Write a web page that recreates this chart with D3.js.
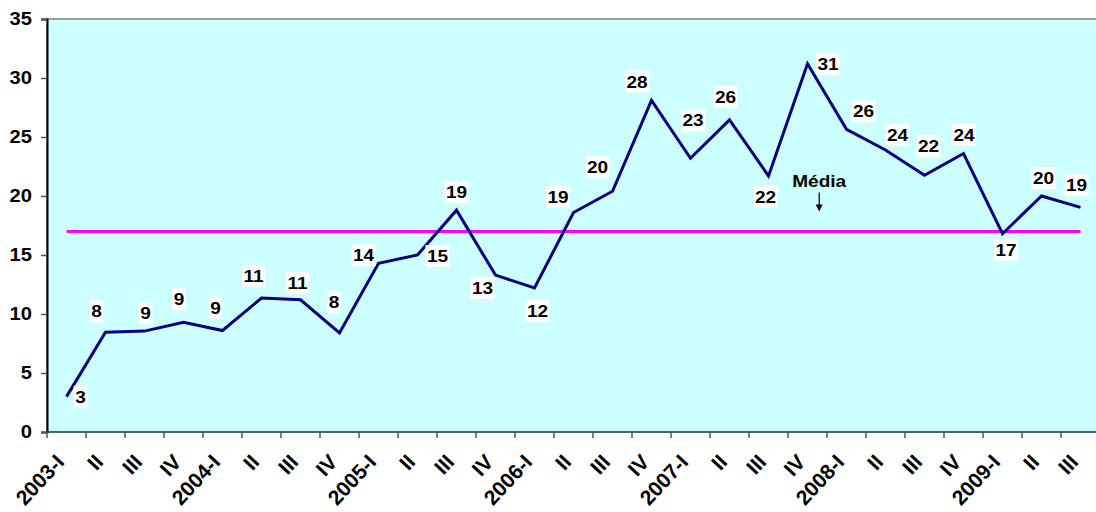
<!DOCTYPE html>
<html>
<head>
<meta charset="utf-8">
<script src="https://cdn.jsdelivr.net/npm/d3@7"></script>
<style>
    html, body { margin: 0; padding: 0; background: #fff; }
    svg { display: block; }
</style>
</head>
<body>
<div id="chart"></div>
<script>
(function () {
    'use strict';

    // quarters 2003-I .. 2009-III
    var periods = [
        "2003-I", "2003-II", "2003-III", "2003-IV",
        "2004-I", "2004-II", "2004-III", "2004-IV",
        "2005-I", "2005-II", "2005-III", "2005-IV",
        "2006-I", "2006-II", "2006-III", "2006-IV",
        "2007-I", "2007-II", "2007-III", "2007-IV",
        "2008-I", "2008-II", "2008-III", "2008-IV",
        "2009-I", "2009-II", "2009-III"
    ];
    var tickLabels = [
        "2003-I", "II", "III", "IV",
        "2004-I", "II", "III", "IV",
        "2005-I", "II", "III", "IV",
        "2006-I", "II", "III", "IV",
        "2007-I", "II", "III", "IV",
        "2008-I", "II", "III", "IV",
        "2009-I", "II", "III"
    ];
    var values = [
        3.0, 8.45, 8.55, 9.3,
        8.6, 11.35, 11.2, 8.4,
        14.3, 15.0, 18.8, 13.3,
        12.2, 18.6, 20.4, 28.1,
        23.2, 26.45, 21.7, 31.2,
        25.65, 23.9, 21.75, 23.6,
        16.8, 20.0, 19.04
    ];
    var media = 17.0;
    var yTicks = [0, 5, 10, 15, 20, 25, 30, 35];

    // where each data label sits relative to its point (placed by hand, like the original)
    var labelOffsets = [
        [14, 0], [-9, -21], [1, -18], [-4.5, -23],
        [-7, -23], [-8, -22], [-3, -17], [-5.5, -31],
        [-15, -8], [20, 1], [0, -18], [-13, 13],
        [3, 23], [-15.5, -16], [-15, -24], [-14.5, -19],
        [2.5, -38], [-4, -23], [-3, 21], [20.5, 0],
        [17, -18], [12, -15], [4, -29], [0.5, -19],
        [3.5, 16], [2, -18], [-4, -22]
    ];

    var W = 1096, H = 512;
    var left = 47, top = 19, bottom = 432, right = 1100;
    var font = "'Liberation Sans', Arial, sans-serif";
    var stretch = 1.12; // the original picture is a bit wider than tall

    var svg = d3.select("#chart").append("svg")
        .attr("width", W)
        .attr("height", H);

    var x = d3.scaleBand()
        .domain(periods)
        .range([left, right])
        .padding(0);

    var y = d3.scaleLinear()
        .domain([0, 35])
        .range([bottom, top]);

    var cx = function (p) { return x(p) + x.bandwidth() / 2; };

    // plot area
    svg.append("rect")
        .attr("x", left)
        .attr("y", top)
        .attr("width", right - left)
        .attr("height", bottom - top)
        .attr("fill", "#CCFFFF")
        .attr("stroke", "#808080")
        .attr("stroke-width", 1.5);

    // y axis
    var yAxis = svg.append("g")
        .attr("transform", "translate(" + left + ",0)")
        .call(d3.axisLeft(y).tickValues(yTicks).tickSize(6).tickPadding(9));
    yAxis.select(".domain").attr("stroke", "#000").attr("stroke-width", 2);
    yAxis.selectAll(".tick line").attr("stroke", "#555").attr("stroke-width", 1.5);
    yAxis.selectAll(".tick text")
        .attr("fill", "#000")
        .style("font-family", font)
        .style("font-weight", "bold")
        .style("font-size", "18px")
        .attr("transform", function () {
            var t = d3.select(this);
            return "translate(" + t.attr("x") + ",0) scale(" + stretch + ",1) translate(" + (-t.attr("x")) + ",0)";
        });

    // x axis line + ticks at category boundaries
    svg.append("line")
        .attr("x1", left).attr("x2", right)
        .attr("y1", bottom).attr("y2", bottom)
        .attr("stroke", "#2f4f4f")
        .attr("stroke-width", 1.5);

    var bounds = periods.map(function (p) { return x(p); }).concat([right]);
    svg.selectAll("line.xtick")
        .data(bounds)
        .enter()
        .append("line")
        .attr("class", "xtick")
        .attr("x1", function (d) { return d; })
        .attr("x2", function (d) { return d; })
        .attr("y1", bottom)
        .attr("y2", bottom + 6)
        .attr("stroke", "#555")
        .attr("stroke-width", 1.5);

    svg.selectAll("text.xlabel")
        .data(periods)
        .enter()
        .append("text")
        .attr("class", "xlabel")
        .attr("text-anchor", "end")
        .attr("transform", function (d) {
            return "translate(" + (cx(d) - 1) + "," + (bottom + 31) + ") rotate(-47)";
        })
        .style("font-family", font)
        .style("font-weight", "bold")
        .style("font-size", "21px")
        .text(function (d, i) { return tickLabels[i]; });

    // average line
    svg.append("line")
        .attr("x1", cx(periods[0]))
        .attr("x2", cx(periods[periods.length - 1]))
        .attr("y1", y(media))
        .attr("y2", y(media))
        .attr("stroke", "#FF00FF")
        .attr("stroke-width", 3);

    // series line
    var line = d3.line()
        .x(function (d, i) { return cx(periods[i]); })
        .y(function (d) { return y(d); });

    svg.append("path")
        .datum(values)
        .attr("d", line)
        .attr("fill", "none")
        .attr("stroke", "#000080")
        .attr("stroke-width", 3)
        .attr("stroke-linejoin", "miter");

    // data labels with white boxes
    var labels = svg.selectAll("g.dlabel")
        .data(values)
        .enter()
        .append("g")
        .attr("class", "dlabel")
        .attr("transform", function (d, i) {
            var px = cx(periods[i]) + labelOffsets[i][0];
            var py = y(d) + labelOffsets[i][1];
            return "translate(" + px + "," + py + ")";
        });

    labels.append("rect")
        .attr("fill", "#fff");

    labels.append("text")
        .attr("text-anchor", "middle")
        .attr("dy", "0.36em")
        .attr("transform", "scale(" + stretch + ",1)")
        .style("font-family", font)
        .style("font-weight", "bold")
        .style("font-size", "17px")
        .text(function (d) { return d3.format(".0f")(d); });

    labels.each(function () {
        var g = d3.select(this);
        var w = g.select("text").node().getBBox().width * stretch + 3;
        g.select("rect")
            .attr("x", -w / 2)
            .attr("y", -11)
            .attr("width", w)
            .attr("height", 22);
    });

    // "Média" note with arrow
    var mx = x(periods[19]) + x.bandwidth() * 0.8;
    svg.append("text")
        .attr("text-anchor", "middle")
        .attr("transform", "translate(" + mx + "," + (y(media) - 44) + ") scale(" + stretch + ",1)")
        .style("font-family", font)
        .style("font-weight", "bold")
        .style("font-size", "17px")
        .text("Média");

    svg.append("line")
        .attr("x1", mx).attr("x2", mx)
        .attr("y1", y(media) - 39)
        .attr("y2", y(media) - 25)
        .attr("stroke", "#000")
        .attr("stroke-width", 1.2);

    svg.append("path")
        .attr("d", d3.line()([[mx - 3.5, y(media) - 27], [mx + 3.5, y(media) - 27], [mx, y(media) - 20]]))
        .attr("fill", "#000");
})();
</script>
</body>
</html>
